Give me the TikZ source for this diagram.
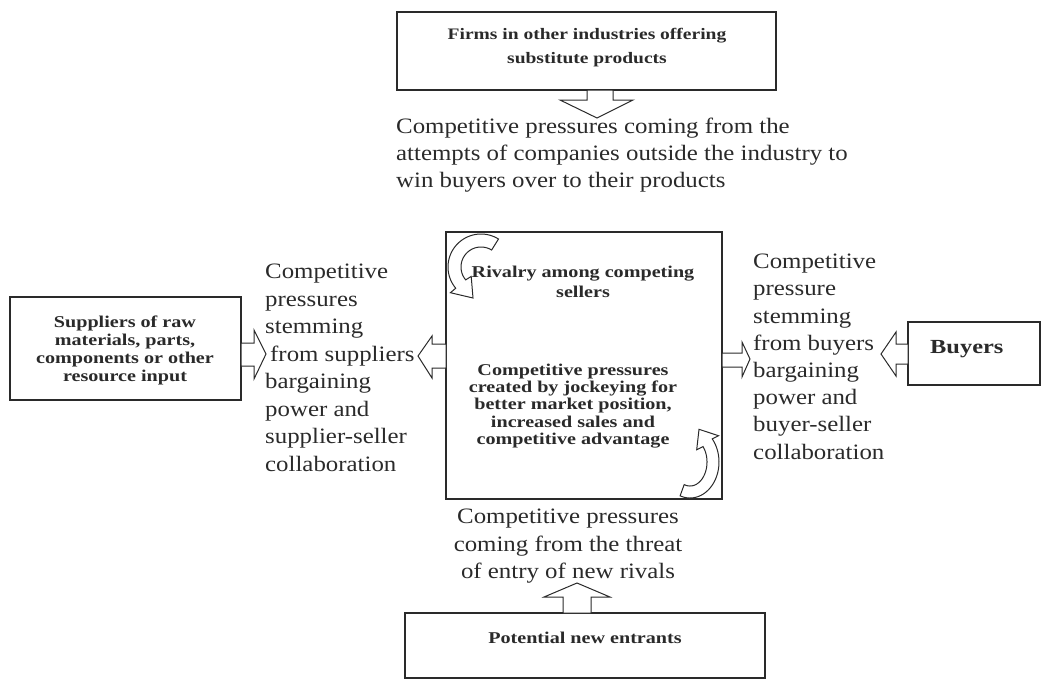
\documentclass[tikz,border=0pt]{standalone}
\usepackage{fontspec}
\setmainfont{Liberation Serif}
\newfontfamily\lblfont[FakeStretch=1.13]{Liberation Serif}
\newfontfamily\bxfont[FakeStretch=1.22]{Liberation Serif}
\definecolor{ink}{HTML}{2A2A2A}
\tikzset{
  box/.style={draw=ink, line width=1.3pt, inner sep=0pt},
  barrow/.style={draw=ink, line width=1pt, fill=white, line join=miter},
  lbl/.style={text=ink, inner sep=0pt, align=left, font=\lblfont\fontsize{22}{27.5}\selectfont},
  btxt/.style={text=ink, inner sep=0pt, align=center, font=\bxfont\bfseries\fontsize{16.5}{17.5}\selectfont}
}
\begin{document}
\begin{tikzpicture}[x=1pt,y=-1pt]
\useasboundingbox (0,0) rectangle (1048,681);
% boxes
\node[box, minimum width=379pt, minimum height=78pt] (topbox) at (586.5,51) {};
\node[box, minimum width=231pt, minimum height=103pt] (supbox) at (125.5,348.5) {};
\node[box, minimum width=276pt, minimum height=267pt] (central) at (584,365.5) {};
\node[box, minimum width=132pt, minimum height=63pt] (buybox) at (974,353.5) {};
\node[box, minimum width=360pt, minimum height=65pt] (newbox) at (585,645.5) {};
% box texts
\node[btxt, font=\bxfont\bfseries\fontsize{16}{24}\selectfont] (toptxt) at (587,48) {Firms in other industries offering\\substitute products};
\node[btxt, font=\bxfont\bfseries\fontsize{16.5}{18}\selectfont] (suptxt) at (125,350) {Suppliers of raw\\materials, parts,\\components or other\\resource input};
\node[btxt, font=\bxfont\bfseries\fontsize{16.5}{20}\selectfont] (rivtxt) at (583,282) {Rivalry among competing\\sellers};
\node[btxt, font=\bxfont\bfseries\fontsize{16.5}{17.2}\selectfont] (cptxt) at (573,406) {Competitive pressures\\created by jockeying for\\better market position,\\increased sales and\\competitive advantage};
\node[btxt, anchor=west, font=\bxfont\bfseries\fontsize{20}{22}\selectfont] (buytxt) at (930,349) {Buyers};
\node[btxt] (newtxt) at (585,638) {Potential new entrants};
% labels
\node[lbl, anchor=north west, font=\lblfont\fontsize{22}{27}\selectfont] (toplbl) at (396,118) {Competitive pressures coming from the\\attempts of companies outside the industry to\\win buyers over to their products};
\node[lbl, anchor=north west] (suplbl) at (265,264) {Competitive\\pressures\\stemming\\\hspace*{5pt}from suppliers\\bargaining\\power and\\supplier-seller\\collaboration};
\node[lbl, anchor=north west, font=\lblfont\fontsize{22}{27.2}\selectfont] (buylbl) at (753,254) {Competitive\\pressure\\stemming\\from buyers\\bargaining\\power and\\buyer-seller\\collaboration};
\node[lbl, anchor=north, align=center] (newlbl) at (568,509) {Competitive pressures\\coming from the threat\\of entry of new rivals};
% straight block arrows
\draw[barrow] (587,90) -- (587,100) -- (560,100) -- (597,118) -- (633,100) -- (613,100) -- (613,90) -- cycle;
\draw[barrow] (563,613) -- (563,597) -- (544,597) -- (577,583) -- (610,597) -- (591,597) -- (591,613) -- cycle;
\draw[barrow] (241,343) -- (254,343) -- (254,330) -- (266,354) -- (254,379) -- (254,366) -- (241,366) -- cycle;
\draw[barrow] (446,344) -- (432,344) -- (432,336) -- (418,356) -- (432,378) -- (432,368) -- (446,368) -- cycle;
\draw[barrow] (722,353) -- (742,353) -- (742,342) -- (750,359) -- (742,377) -- (742,367) -- (722,367) -- cycle;
\draw[barrow] (908,344) -- (896,344) -- (896,332) -- (881,354) -- (896,376) -- (896,364) -- (908,364) -- cycle;
% curved block arrows
\draw[barrow] plot[domain=302:140, samples=40] ({481+33*cos(\x)}, {267+33*sin(\x)}) -- (450.4,292.7) -- (473,298) -- (471.2,276.4) -- plot[domain=140:302, samples=40] ({481+20*cos(\x)}, {267+20*sin(\x)}) -- cycle;
\draw[barrow] plot[domain=110:-40, samples=40] ({690+29*cos(\x)}, {462+36*sin(\x)}) -- (718.5,435.7) -- (699,429.3) -- (696.7,449.7) -- plot[domain=-40:110, samples=40] ({690+17*cos(\x)}, {462+24*sin(\x)}) -- cycle;
\end{tikzpicture}
\end{document}
